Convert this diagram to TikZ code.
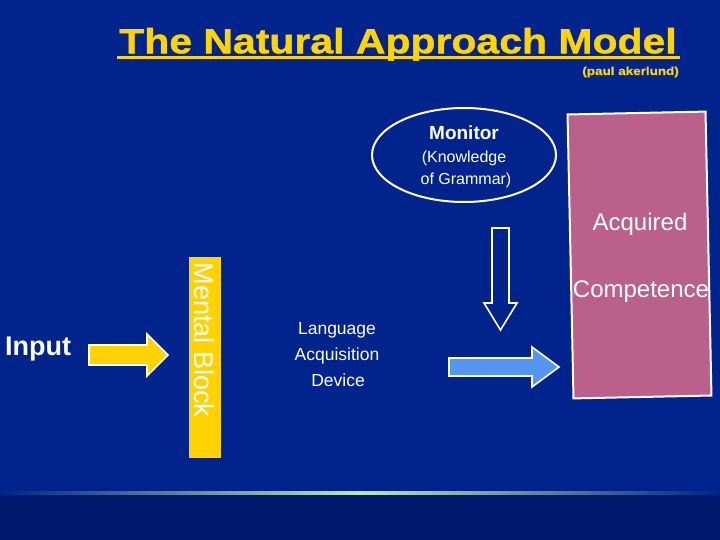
\documentclass[tikz,border=0pt]{standalone}
\usepackage{fontspec}
\setmainfont{Liberation Sans}
\newfontfamily\titlefont[FakeStretch=1.17,FakeBold=1.2]{Liberation Sans}
\newfontfamily\authorfont[FakeStretch=1.16,FakeBold=0.8]{Liberation Sans}
\usetikzlibrary{shapes.geometric}
\definecolor{bg}{RGB}{0,35,140}
\definecolor{bgdark}{RGB}{0,25,108}
\definecolor{linegreen}{RGB}{185,235,175}
\definecolor{ytitle}{RGB}{255,212,0}
\definecolor{yblock}{RGB}{255,210,0}
\definecolor{pinkbox}{RGB}{186,96,138}
\definecolor{bluearrow}{RGB}{85,150,240}
\tikzset{
  wtext/.style={text=white, inner sep=0pt, align=center},
  blockarrow/.style={draw=white, line width=1.6, line join=miter},
}
\begin{document}
\begin{tikzpicture}[x=1pt,y=-1pt]
\useasboundingbox (0,0) rectangle (720,540);
\fill[bg] (0,0) rectangle (720,540);
\fill[bgdark] (0,493) rectangle (720,540);
\shade[left color=bg, right color=bg, middle color=linegreen] (0,491.5) rectangle (720,494.5);
% title
\node[text=ytitle, inner sep=0pt, anchor=base, font=\titlefont\bfseries\fontsize{35}{35}\selectfont] (title) at (398,53.3) {The Natural Approach Model};
\draw[ytitle, line width=3] ([xshift=-2pt,yshift=-4pt]title.base west) -- ([xshift=3pt,yshift=-4pt]title.base east);
\node[text=ytitle, inner sep=0pt, anchor=base east, font=\authorfont\bfseries\fontsize{11.6}{11.6}\selectfont] (author) at (679,75) {(paul akerlund)};
% monitor ellipse
\node[ellipse, draw=white, line width=2, minimum width=184, minimum height=94] (monitor) at (464,155) {};
\node[wtext, font=\bfseries\fontsize{19}{19}\selectfont] (montitle) at (464,133) {Monitor};
\node[wtext, font=\fontsize{16}{16}\selectfont] (mon1) at (464,158) {(Knowledge};
\node[wtext, font=\fontsize{16}{16}\selectfont] (mon2) at (466,180) {of Grammar)};
% acquired competence box
\node[draw=white, fill=pinkbox, line width=2, minimum width=138, minimum height=284, rotate=1.2] (acq) at (639.5,255) {};
\node[wtext, font=\fontsize{24}{24}\selectfont] (acqtxt) at (640,224) {Acquired};
\node[wtext, font=\fontsize{24}{24}\selectfont] (comptxt) at (641,292) {Competence};
% mental block
\node[fill=yblock, minimum width=32, minimum height=201, inner sep=0pt] (mb) at (205,357.5) {};
\node[wtext, rotate=-90, font=\fontsize{27}{27}\selectfont] (mbtxt) at (204,340) {Mental Block};
% input
\node[wtext, font=\bfseries\fontsize{27}{27}\selectfont] (input) at (38,349) {Input};
% LAD
\node[wtext, font=\fontsize{17.5}{17.5}\selectfont] (lad1) at (337,330) {Language};
\node[wtext, font=\fontsize{17.5}{17.5}\selectfont] (lad2) at (337,355.5) {Acquisition};
\node[wtext, font=\fontsize{17.5}{17.5}\selectfont] (lad3) at (338,380) {Device};
% yellow arrow
\draw[blockarrow, fill=yblock] (89,345) -- (147,345) -- (147,334) -- (168,355) -- (147,376) -- (147,365) -- (89,365) -- cycle;
% blue arrow
\draw[blockarrow, fill=bluearrow] (449,358) -- (532,358) -- (532,347) -- (559,367) -- (532,387) -- (532,376) -- (449,376) -- cycle;
% down hollow arrow
\draw[blockarrow] (492,228) -- (509,228) -- (509,303) -- (517,303) -- (500.5,330) -- (484,303) -- (492,303) -- cycle;
\end{tikzpicture}
\end{document}
